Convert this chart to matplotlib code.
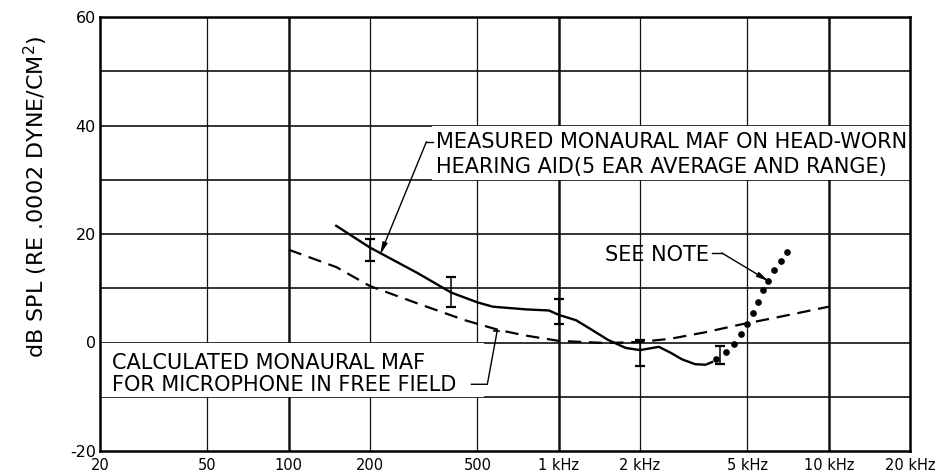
import numpy as np
import matplotlib
matplotlib.use('Agg')
import matplotlib.pyplot as plt
from matplotlib.patches import Rectangle

plt.rcParams['axes.unicode_minus'] = False

# Calculated monaural MAF, microphone in free field (dashed)
calc_freq = [100, 150, 200, 300, 450, 600, 750, 1000, 1500, 2000, 2600, 3500, 4700, 6100, 8000, 10000]
calc_db = [17.1, 13.9, 10.4, 7.2, 4.1, 2.3, 1.3, 0.3, -0.1, 0.1, 0.7, 1.9, 3.3, 4.4, 5.6, 6.6]

# Measured monaural MAF on head-worn hearing aid (solid)
meas_freq = [150, 200, 300, 400, 500, 570, 760, 920, 1000, 1160, 1320, 1520, 1770, 2000,
             2350, 2600, 2860, 3200, 3500, 3700]
meas_db = [21.5, 17.5, 12.8, 9.2, 7.4, 6.6, 6.1, 5.9, 5.1, 4.1, 2.4, 0.5, -1.0, -1.4,
           -0.8, -1.9, -3.1, -4.0, -4.1, -3.6]

# "See note" points (dotted)
note_freq = [3820, 4160, 4450, 4750, 5000, 5230, 5460, 5700, 5940, 6260, 6640, 6990]
note_db = [-3.1, -1.8, -0.2, 1.5, 3.5, 5.4, 7.5, 9.6, 11.4, 13.3, 15.1, 16.6]

# 5 ear range
range_freq = [200, 400, 1000, 2000, 3950]
range_lo = [15.0, 6.5, 3.5, -4.3, -3.9]
range_hi = [19.0, 12.0, 8.0, 0.5, -0.6]

x_ticks = [20, 50, 100, 200, 500, 1000, 2000, 5000, 10000, 20000]
x_labels = ['20', '50', '100', '200', '500', '1 kHz', '2 kHz', '5 kHz', '10 kHz', '20 kHz']
y_ticks = [-20, 0, 20, 40, 60]
y_grid = [-10, 0, 10, 20, 30, 40, 50]

fig = plt.figure(figsize=(9.45, 4.75), dpi=100)
ax = fig.add_axes([100 / 945, 1 - 451 / 475, 810 / 945, 434 / 475])
ax.set_xscale('log')
ax.set_xlim(20, 20000)
ax.set_ylim(-20, 60)

# grid
for f in x_ticks[1:-1]:
    lw = 1.8 if f in (100, 1000, 10000) else 0.9
    ax.axvline(f, color='#111111', lw=lw, zorder=1)
for y in y_grid:
    ax.axhline(y, color='#111111', lw=1.2, zorder=1)

# white label boxes cover the grid
ax.add_patch(Rectangle((340, 30), 20000 - 340, 10, facecolor='white', edgecolor='none', zorder=2))
ax.add_patch(Rectangle((20, -10), 530 - 20, 10, facecolor='white', edgecolor='none', zorder=2))

# curves
ax.plot(calc_freq, calc_db, color='black', lw=1.6, dashes=(6, 3.5), zorder=3)
ax.plot(meas_freq, meas_db, color='black', lw=1.7, zorder=3)
ax.plot(note_freq, note_db, 'o', color='black', ms=3.8, zorder=3)
mid = [(a + b) / 2 for a, b in zip(range_lo, range_hi)]
err = [[m - a for m, a in zip(mid, range_lo)], [b - m for m, b in zip(mid, range_hi)]]
ax.errorbar(range_freq, mid, yerr=err, fmt='none', ecolor='black', elinewidth=1.1,
            capsize=3.5, capthick=1.6, zorder=3)

# labels and leaders
txt = dict(fontsize=15, color='black', va='center', ha='left', zorder=4)
ax.text(352, 36.9, 'MEASURED MONAURAL MAF ON HEAD-WORN', **txt)
ax.text(352, 32.4, 'HEARING AID(5 EAR AVERAGE AND RANGE)', **txt)
ax.plot([323.6, 343], [37, 37], color='black', lw=1, zorder=4)
ax.annotate('', xy=(218, 16.2), xytext=(323.6, 37),
            arrowprops=dict(arrowstyle='-|>,head_length=0.7,head_width=0.15', lw=1,
                            color='black', shrinkA=0, shrinkB=0), zorder=4)

ax.text(22.1, -3.7, 'CALCULATED MONAURAL MAF', **txt)
ax.text(22.1, -7.9, 'FOR MICROPHONE IN FREE FIELD', **txt)
ax.plot([475, 544, 592], [-7.7, -7.7, 2.2], color='black', lw=1, zorder=4)
ax.plot([577, 602], [2.2, 2.2], color='black', lw=1.2, zorder=4)

ax.text(1484, 16.2, 'SEE NOTE', **txt)
ax.plot([3690, 4020], [16.5, 16.5], color='black', lw=1, zorder=4)
ax.annotate('', xy=(6000, 11.3), xytext=(4020, 16.5),
            arrowprops=dict(arrowstyle='-|>,head_length=0.7,head_width=0.15', lw=1,
                            color='black', shrinkA=0, shrinkB=0), zorder=4)

# axes
ax.minorticks_off()
ax.set_xticks(x_ticks, x_labels)
ax.set_yticks(y_ticks)
ax.tick_params(length=0, labelsize=11.5)
ax.tick_params(axis='x', pad=5, labelsize=10.5)
ax.tick_params(axis='y', pad=3)
for s in ax.spines.values():
    s.set_linewidth(1.8)
    s.set_zorder(5)
ax.set_ylabel('dB SPL (RE .0002 DYNE/CM$^2$)', fontsize=16)
ax.yaxis.set_label_coords(-0.062, 0.585)

fig.savefig('out.png', dpi=100)
